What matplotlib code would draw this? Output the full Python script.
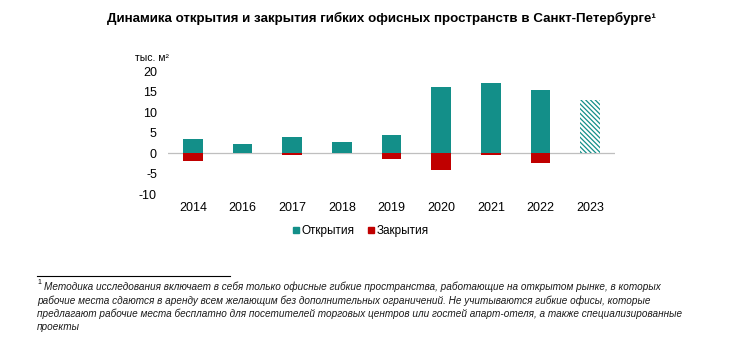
import matplotlib.pyplot as plt
import numpy as np
from matplotlib.lines import Line2D

plt.rcParams['font.family'] = ['Liberation Sans', 'DejaVu Sans']
plt.rcParams['hatch.linewidth'] = 0.9
plt.rcParams['axes.unicode_minus'] = False

years = ["2014", "2016", "2017", "2018", "2019", "2020", "2021", "2022", "2023"]
opened = [3.4, 2.2, 3.9, 2.7, 4.4, 16.0, 17.1, 15.3, 13.0]
closed = [-1.9, 0, -0.4, 0, -1.5, -4.1, -0.4, -2.4, 0]
forecast = [False, False, False, False, False, False, False, False, True]

teal = "#138F89"
red = "#C00000"

fig = plt.figure(figsize=(7.29, 3.38), dpi=100)
ax = fig.add_axes([168 / 729, 1 - 194 / 338, 447 / 729, 123 / 338])

x = np.arange(len(years))
for i in range(len(years)):
    if forecast[i]:
        ax.bar(x[i], opened[i], width=0.4, color="white", edgecolor=teal,
               hatch="\\" * 7, linewidth=0)
    else:
        ax.bar(x[i], opened[i], width=0.4, color=teal, linewidth=0)
ax.bar(x, closed, width=0.4, color=red, linewidth=0)

ax.axhline(0, color="#BFBFBF", linewidth=0.9, zorder=0)
ax.set_xlim(-0.5, len(years) - 0.5)
ax.set_ylim(-10, 20)
ax.set_yticks([-10, -5, 0, 5, 10, 15, 20])
ax.set_xticks(x)
ax.set_xticklabels(years)
ax.tick_params(length=0, labelsize=9, colors="#000000")
ax.tick_params(axis="y", pad=8)
ax.tick_params(axis="x", pad=6)
for s in ax.spines.values():
    s.set_visible(False)

fig.text(135 / 729, 1 - 58 / 338, "тыс. м²", fontsize=7.5, va="center", ha="left")

fig.text(381 / 729, 1 - 18 / 338, "Динамика открытия и закрытия гибких офисных пространств в Санкт-Петербурге¹",
         fontsize=9.6, fontweight="bold", ha="center", va="center")

handles = [Line2D([], [], marker="s", color=teal, linestyle="", markersize=4),
           Line2D([], [], marker="s", color=red, linestyle="", markersize=4)]
fig.legend(handles, ["Открытия", "Закрытия"], loc="center", bbox_to_anchor=(360 / 729, 1 - 231 / 338),
           ncol=2, frameon=False, fontsize=8.5, handletextpad=0.1, columnspacing=1.0, handlelength=0.8)

fig.add_artist(Line2D([37 / 729, 230 / 729], [1 - 276 / 338, 1 - 276 / 338], color="black", linewidth=0.8))

notes = ["Методика исследования включает в себя только офисные гибкие пространства, работающие на открытом рынке, в которых",
         "рабочие места сдаются в аренду всем желающим без дополнительных ограничений. Не учитываются гибкие офисы, которые",
         "предлагают рабочие места бесплатно для посетителей торговых центров или гостей апарт-отеля, а также специализированные",
         "проекты"]
fig.text(37 / 729, 1 - 283 / 338, "1", fontsize=5, ha="left", va="center")
for i, line in enumerate(notes):
    x0 = 44 if i == 0 else 37
    fig.text(x0 / 729, 1 - (287 + i * 13.3) / 338, line, fontsize=7.2, style="italic",
             ha="left", va="center", color="#1a1a1a")

fig.savefig("out.png", dpi=100)
